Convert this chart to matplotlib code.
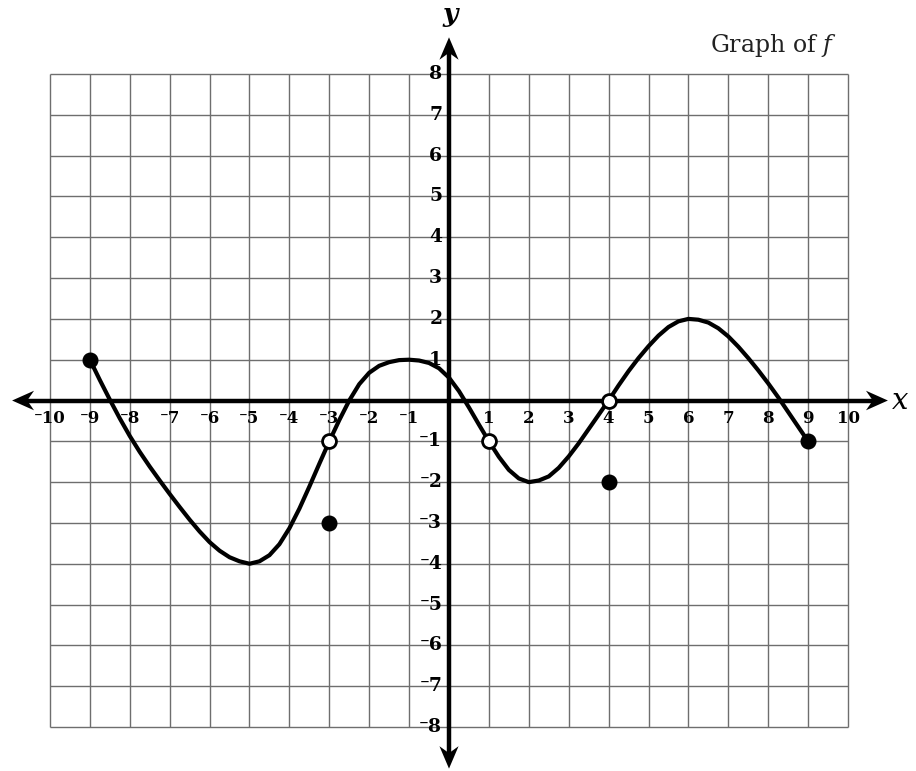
import matplotlib
matplotlib.use('Agg')
import matplotlib.pyplot as plt

# readings of the curve, every quarter unit
curve_x = [-9, -8.75, -8.5, -8.25, -8, -7.75, -7.5, -7.25, -7, -6.75, -6.5, -6.25,
           -6, -5.75, -5.5, -5.25, -5, -4.75, -4.5, -4.25, -4, -3.75, -3.5, -3.25,
           -3, -2.75, -2.5, -2.25, -2, -1.75, -1.5, -1.25, -1, -0.75, -0.5, -0.25,
           0, 0.25, 0.5, 0.75, 1, 1.25, 1.5, 1.75, 2, 2.25, 2.5, 2.75,
           3, 3.25, 3.5, 3.75, 4, 4.25, 4.5, 4.75, 5, 5.25, 5.5, 5.75,
           6, 6.25, 6.5, 6.75, 7, 7.25, 7.5, 7.75, 8, 8.25, 8.5, 8.75, 9]
curve_y = [1.0, 0.5, 0.02, -0.44, -0.87, -1.26, -1.62, -1.96, -2.29, -2.61, -2.92, -3.21,
           -3.47, -3.68, -3.84, -3.94, -4.0, -3.94, -3.79, -3.52, -3.13, -2.65, -2.11, -1.55,
           -1.0, -0.48, 0.0, 0.4, 0.68, 0.85, 0.94, 0.99, 1.0, 0.98, 0.92, 0.79,
           0.56, 0.23, -0.17, -0.59, -1.0, -1.38, -1.7, -1.91, -2.0, -1.96, -1.86, -1.65,
           -1.37, -1.05, -0.7, -0.35, 0.0, 0.37, 0.72, 1.04, 1.33, 1.59, 1.8, 1.94,
           2.0, 1.98, 1.91, 1.77, 1.57, 1.32, 1.04, 0.74, 0.42, 0.08, -0.28, -0.64, -1.0]

closed_x = [-9, 9, -3, 4]
closed_y = [1, -1, -3, -2]
open_x = [-3, 1, 4]
open_y = [-1, -1, 0]

x_ticks = list(range(-10, 11))
y_ticks = list(range(-8, 9))

fig = plt.figure(figsize=(9.16, 7.71), dpi=100)
ax = fig.add_axes([0, 0, 1, 1])
ax.set_xlim(-11.253, 11.704)
ax.set_ylim(-9.078, 9.814)
ax.axis('off')

# grid
grid_col = '#6e6e6e'
ax.vlines(x_ticks, y_ticks[0], y_ticks[-1], colors=grid_col, linewidth=1.0, zorder=1)
ax.hlines(y_ticks, x_ticks[0], x_ticks[-1], colors=grid_col, linewidth=1.0, zorder=1)


def arrow_head(tip, direction):
    # notched arrow head, direction = (dx, dy) unit
    dx, dy = direction
    L, W, N = 0.55, 0.24, 0.38
    tx, ty = tip
    px, py = -dy, dx
    xs = [tx, tx - L * dx + W * px, tx - N * dx, tx - L * dx - W * px]
    ys = [ty, ty - L * dy + W * py, ty - N * dy, ty - L * dy - W * py]
    ax.fill(xs, ys, color='black', zorder=4, linewidth=0)


# axes
x_lo, x_hi = -10.95, 11.0
y_lo, y_hi = -9.02, 8.9
ax.plot([x_lo + 0.4, x_hi - 0.4], [0, 0], color='black', linewidth=3.2, zorder=3)
ax.plot([0, 0], [y_lo + 0.4, y_hi - 0.4], color='black', linewidth=3.2, zorder=3)
arrow_head((x_hi, 0), (1, 0))
arrow_head((x_lo, 0), (-1, 0))
arrow_head((0, y_hi), (0, 1))
arrow_head((0, y_lo), (0, -1))

fam = ['DejaVu Serif', 'DejaVu Sans']


def lab(v):
    return ('\u207b' + str(-v)) if v < 0 else str(v)


for v in x_ticks:
    if v == 0:
        continue
    ax.text(v, -0.45, lab(v), ha='center', va='center', fontsize=12,
            fontweight='bold', family=fam, zorder=4)
for v in y_ticks:
    if v == 0:
        continue
    ax.text(-0.17, v, lab(v), ha='right', va='center', fontsize=13.5,
            fontweight='bold', family=fam, zorder=4)

ax.text(0.02, 9.45, 'y', ha='center', va='center', fontsize=19, style='italic',
        fontweight='bold', family=fam)
ax.text(11.3, -0.02, 'x', ha='center', va='center', fontsize=21, style='italic',
        family=fam)

plt.rcParams['mathtext.fontset'] = 'dejavuserif'
ax.text(9.72, 8.7, 'Graph of $f$', ha='right', va='center', fontsize=17,
        family=fam, color='#222222')

# curve and points
ax.plot(curve_x, curve_y, color='black', linewidth=3.0, solid_capstyle='round',
        solid_joinstyle='round', zorder=5)
ax.plot(closed_x, closed_y, 'o', color='black', markersize=10.5, zorder=6)
ax.plot(open_x, open_y, 'o', markerfacecolor='white', markeredgecolor='black',
        markeredgewidth=2, markersize=10, zorder=6)

fig.savefig('out.png', dpi=100, facecolor='white')
